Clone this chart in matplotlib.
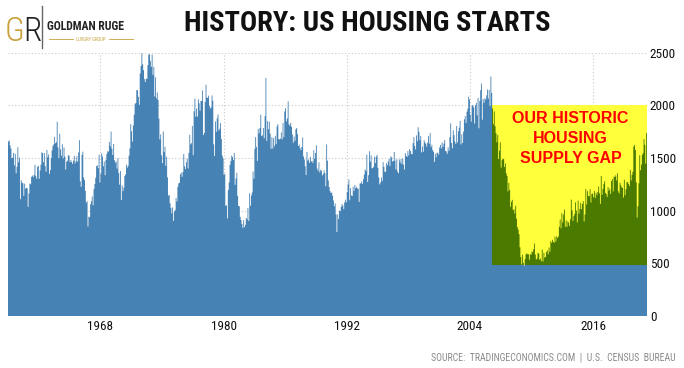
import numpy as np
import matplotlib
matplotlib.use("Agg")
import matplotlib.pyplot as plt
from matplotlib.patches import Rectangle
from matplotlib import font_manager

# monthly US housing starts (thousands, SAAR), Jan 1959 .. Mar 2021
first_year = 1959
housing_starts = [
    1657, 1667, 1620, 1590, 1498, 1503, 1547, 1430, 1540, 1355, 1416, 1601,
    1460, 1503, 1109, 1289, 1266, 1260, 1141, 1257, 1209, 1217, 1212, 1036,
    1163, 1258, 1251, 1322, 1333, 1319, 1339, 1435, 1330, 1304, 1415, 1426,
    1303, 1382, 1436, 1553, 1548, 1460, 1547, 1424, 1370, 1577, 1506, 1534,
    1349, 1385, 1501, 1573, 1615, 1630, 1700, 1640, 1650, 1844, 1601, 1499,
    1730, 1582, 1522, 1631, 1496, 1600, 1514, 1390, 1465, 1474, 1526, 1523,
    1460, 1481, 1462, 1444, 1475, 1521, 1450, 1471, 1517, 1465, 1553, 1669,
    1279, 1226, 1530, 1560, 1315, 1290, 1188, 1077, 1090, 850, 943, 938,
    1061, 1090, 1135, 1052, 1205, 1253, 1313, 1424, 1431, 1404, 1532, 1267,
    1352, 1545, 1515, 1421, 1468, 1337, 1482, 1539, 1564, 1561, 1654, 1612,
    1751, 1588, 1529, 1634, 1480, 1456, 1468, 1399, 1498, 1359, 1247, 1376,
    1102, 1240, 1186, 1220, 1329, 1346, 1436, 1408, 1427, 1523, 1591, 1822,
    1753, 1656, 1810, 1910, 2015, 2023, 2146, 2142, 2081, 2005, 2302, 2374,
    2494, 2390, 2334, 2249, 2221, 2254, 2252, 2382, 2481, 2485, 2421, 2366,
    2481, 2289, 2365, 2084, 2266, 2067, 2123, 2051, 1874, 1677, 1724, 1526,
    1451, 1752, 1555, 1607, 1426, 1513, 1316, 1142, 1150, 1070, 1026, 975,
    1032, 904, 993, 1005, 1121, 1087, 1226, 1260, 1264, 1344, 1360, 1321,
    1367, 1538, 1421, 1395, 1459, 1495, 1401, 1550, 1720, 1629, 1641, 1804,
    1527, 1943, 2063, 1892, 1971, 1893, 2058, 2020, 1949, 2042, 2042, 2142,
    1718, 1738, 2032, 2197, 2075, 2070, 2092, 1996, 1970, 1981, 2094, 2044,
    1630, 1520, 1847, 1748, 1876, 1913, 1760, 1778, 1832, 1681, 1524, 1498,
    1341, 1350, 1047, 1051, 927, 1196, 1269, 1436, 1471, 1523, 1510, 1482,
    1547, 1246, 1306, 1360, 1140, 1045, 1041, 940, 911, 873, 837, 910,
    843, 866, 931, 917, 1025, 902, 1166, 1046, 1144, 1173, 1372, 1303,
    1586, 1699, 1606, 1472, 1776, 1733, 1785, 1910, 1710, 1715, 1785, 1688,
    1897, 2260, 1663, 1851, 1774, 1843, 1732, 1586, 1698, 1590, 1689, 1612,
    1711, 1632, 1800, 1821, 1680, 1676, 1684, 1743, 1676, 1834, 1698, 1942,
    1972, 1848, 1876, 2038, 1820, 1807, 1835, 1795, 1725, 1645, 1704, 1663,
    1774, 1784, 1726, 1614, 1628, 1594, 1575, 1605, 1695, 1515, 1487, 1422,
    1339, 1557, 1475, 1486, 1454, 1511, 1466, 1473, 1453, 1574, 1493, 1547,
    1620, 1400, 1379, 1459, 1363, 1388, 1380, 1335, 1347, 1384, 1358, 1232,
    1629, 1475, 1288, 1225, 1187, 1168, 1173, 1142, 1097, 1042, 1069, 965,
    798, 965, 921, 1001, 996, 1036, 1063, 1049, 1015, 1079, 1103, 1079,
    1176, 1250, 1297, 1099, 1214, 1145, 1139, 1226, 1186, 1244, 1214, 1227,
    1210, 1210, 1083, 1258, 1260, 1280, 1254, 1300, 1343, 1392, 1376, 1533,
    1272, 1337, 1564, 1465, 1526, 1402, 1405, 1419, 1513, 1453, 1514, 1530,
    1407, 1316, 1249, 1267, 1314, 1281, 1461, 1416, 1369, 1369, 1452, 1431,
    1467, 1491, 1424, 1516, 1504, 1467, 1472, 1557, 1475, 1392, 1489, 1370,
    1355, 1486, 1457, 1492, 1442, 1494, 1437, 1390, 1546, 1520, 1510, 1566,
    1525, 1584, 1567, 1540, 1536, 1641, 1698, 1614, 1582, 1715, 1660, 1792,
    1748, 1670, 1710, 1553, 1611, 1559, 1669, 1648, 1635, 1608, 1648, 1708,
    1636, 1737, 1604, 1626, 1575, 1559, 1463, 1541, 1507, 1549, 1551, 1532,
    1600, 1625, 1590, 1649, 1605, 1636, 1670, 1567, 1562, 1540, 1602, 1568,
    1698, 1829, 1642, 1592, 1764, 1717, 1655, 1633, 1804, 1648, 1753, 1788,
    1853, 1629, 1726, 1643, 1751, 1867, 1897, 1833, 1939, 1967, 2083, 2057,
    1911, 1846, 1998, 2003, 1981, 1828, 2002, 2024, 1905, 2072, 1782, 2042,
    2144, 2207, 1864, 2061, 2025, 2068, 2054, 2095, 2151, 2065, 2147, 1994,
    2273, 2119, 1969, 1821, 1942, 1802, 1737, 1650, 1720, 1491, 1570, 1649,
    1409, 1480, 1495, 1490, 1415, 1448, 1354, 1330, 1183, 1264, 1197, 1037,
    1084, 1103, 1005, 1013, 973, 1046, 923, 844, 820, 777, 652, 560,
    490, 582, 505, 478, 540, 585, 594, 586, 585, 534, 588, 581,
    614, 604, 636, 687, 583, 536, 546, 599, 593, 534, 545, 520,
    630, 517, 600, 554, 561, 608, 623, 585, 650, 610, 711, 694,
    723, 704, 695, 753, 708, 757, 740, 754, 847, 915, 833, 976,
    888, 962, 1010, 847, 907, 846, 899, 886, 855, 919, 1105, 1003,
    902, 948, 969, 1079, 1000, 888, 1095, 971, 1017, 1074, 1012, 1063,
    1090, 897, 964, 1205, 1059, 1185, 1140, 1137, 1203, 1077, 1158, 1163,
    1128, 1187, 1119, 1170, 1147, 1178, 1229, 1164, 1065, 1330, 1150, 1206,
    1252, 1279, 1169, 1157, 1130, 1224, 1189, 1208, 1159, 1281, 1300, 1183,
    1324, 1319, 1336, 1287, 1355, 1183, 1164, 1265, 1240, 1220, 1217, 1124,
    1295, 1148, 1204, 1272, 1270, 1253, 1234, 1387, 1287, 1340, 1369, 1608,
    1624, 1576, 1269, 934, 1042, 1260, 1526, 1384, 1437, 1530, 1547, 1680,
    1625, 1447, 1739,
]
tick_years = [1968, 1980, 1992, 2004, 2016]
y_ticks = [0, 500, 1000, 1500, 2000, 2500]

title = "HISTORY: US HOUSING STARTS"
gap_label = "OUR HISTORIC\nHOUSING\nSUPPLY GAP"
source = "SOURCE:  TRADINGECONOMICS.COM  |  U.S.  CENSUS  BUREAU"

# highlighted box (years / thousands)
gap_x0, gap_y0, gap_y1 = 2006 + 2 / 12, 480, 2000

names = {f.name for f in font_manager.fontManager.ttflist}
narrow = "DejaVu Sans"
for cand in ["Liberation Sans Narrow", "Roboto Condensed", "Open Sans Condensed"]:
    if cand in names:
        narrow = cand
        break
cond = dict(family=narrow, stretch="condensed")

blue = "#4682b4"
green = "#4a7a00"
yellow = "#ffff3c"

vals = np.array(housing_starts, dtype=float)
edges = first_year + np.arange(len(vals) + 1) / 12.0

fig = plt.figure(figsize=(6.84, 3.68), dpi=100)
ax = fig.add_axes([8 / 684, 52 / 368, 639 / 684, 263.3 / 368])

ax.stairs(vals, edges, fill=True, color=blue, lw=0, zorder=2)

x1 = edges[-1]
box = Rectangle((gap_x0, gap_y0), x1 - gap_x0, gap_y1 - gap_y0,
                facecolor=yellow, edgecolor="none", zorder=3)
ax.add_patch(box)
gs = ax.stairs(vals, edges, fill=True, color=green, lw=0, zorder=4)
gs.set_clip_path(box)

ax.text((gap_x0 + x1) / 2 + 0.1, 1950, gap_label, color="#ff0000", ha="center",
        va="top", fontsize=11.5, fontweight="bold", family="Liberation Sans",
        linespacing=1.42, zorder=5)

ax.set_xlim(first_year, x1)
ax.set_ylim(0, 2500)
for y in y_ticks:
    ax.axhline(y, color="#c8c8c8", lw=0.8, ls=(0, (1, 2)), zorder=1)
for t in tick_years:
    ax.axvline(t, color="#c8c8c8", lw=0.8, ls=(0, (1, 2)), zorder=1)

for s in ax.spines.values():
    s.set_visible(False)
ax.yaxis.tick_right()
ax.set_yticks(y_ticks)
ax.set_xticks(tick_years)
ax.set_xticklabels([str(t) for t in tick_years])
ax.tick_params(length=0, labelsize=9.5, pad=3)
ax.tick_params(axis="y", pad=2)
for lab in ax.get_xticklabels() + ax.get_yticklabels():
    lab.set_family(narrow)
    lab.set_stretch("condensed")
    lab.set_color("#111111")

fig.text(0.537, 0.937, title, ha="center", va="center", fontsize=20.5,
         fontweight="bold", color="#111111", **cond)

# logo
fig.text(5 / 684, 0.912, "G", fontsize=24, color="#c9a03a", va="center",
         fontweight="light", **cond)
fig.text(23 / 684, 0.912, "R", fontsize=24, color="#222222", va="center",
         fontweight="light", **cond)
fig.add_artist(plt.Line2D([42 / 684, 42 / 684], [0.87, 0.985],
                          color="#666666", lw=1.0))
fig.text(47 / 684, 0.928, "GOLDMAN RUGE", fontsize=8.5, fontweight="bold",
         color="#222222", va="center", **cond)
fig.text(91 / 684, 0.893, "LUXURY GROUP", fontsize=3.4, color="#c9a03a",
         ha="center", va="center", **cond)
fig.add_artist(plt.Line2D([49 / 684, 73 / 684], [0.893, 0.893], color="#c9a03a", lw=0.6))
fig.add_artist(plt.Line2D([109 / 684, 133 / 684], [0.893, 0.893], color="#c9a03a", lw=0.6))

fig.text(676 / 684, 1 - 357 / 368, source, ha="right", va="center",
         fontsize=7, color="#8a8a8a", **cond)

fig.savefig("out.png", dpi=100)
